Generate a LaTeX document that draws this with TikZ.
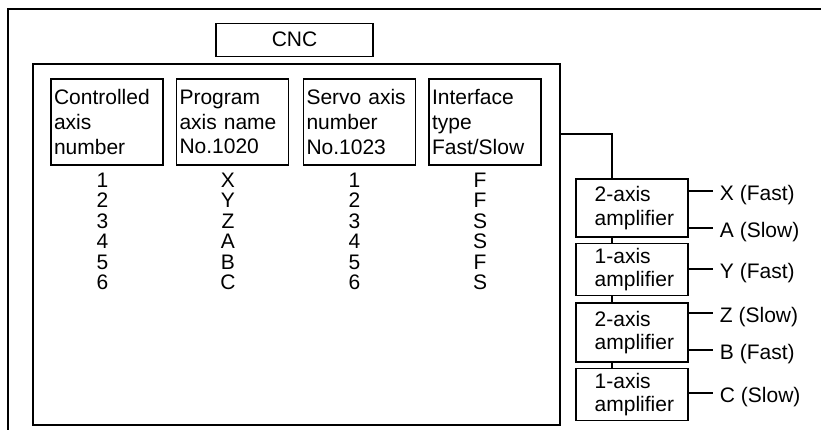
\documentclass[tikz,border=0pt]{standalone}
\usepackage{fontspec}
\setmainfont{Liberation Sans}
\usetikzlibrary{positioning}

\begin{document}
\begin{tikzpicture}[
    x=0.75pt,y=0.75pt,
    every node/.style={font=\fontsize{15.75}{18.5}\selectfont},
    frame/.style={draw,line width=1.1pt},
    hdrbox/.style={draw,line width=0.8pt,text width=79.5pt,inner xsep=2.25pt,
                   minimum width=84pt,minimum height=64.5pt,align=left},
    ampbox/.style={draw,line width=0.8pt,text width=56pt,minimum width=84pt,
                   align=left,font=\fontsize{15.75}{17.6}\selectfont},
    entry/.style={inner sep=0pt},
    outlbl/.style={anchor=west,inner xsep=5pt,inner ysep=1pt,text height=18pt,text depth=3.3pt},
    link/.style={line width=1.5pt}
]
\useasboundingbox (0,0) rectangle (821,-429);
\clip (0,0) rectangle (821,-429);

% outer frame
\draw[frame] (8,-440) |- (830,-9);

% CNC
\node[draw,line width=0.8pt,minimum width=117.75pt,minimum height=24.75pt] (cnc) at (294.5,-39.75) {CNC};
\node[frame,minimum width=395.25pt,minimum height=270.75pt] (cncbox) at (296.5,-244.5) {};

% column heads
\node[hdrbox] (hdr1) at (107,-122)   {Controlled\\axis\\number};
\node[hdrbox] (hdr2) at (232.5,-122) {Program\\axis name\\No.1020};
\node[hdrbox] (hdr3) at (359.5,-122) {Servo axis\\number\\No.1023};
\node[hdrbox] (hdr4) at (485,-122)   {Interface\\type\\Fast/Slow};

% table entries
\foreach \r/\a/\b/\c/\d in {1/1/X/1/F,2/2/Y/2/F,3/3/Z/3/S,4/4/A/4/S,5/5/B/5/F,6/6/C/6/S}{
  \node[entry] (ca\r) at (102.5,-159.5-20.5*\r) {\a};
  \node[entry] (pn\r) at (228,-159.5-20.5*\r)   {\b};
  \node[entry] (sv\r) at (354.5,-159.5-20.5*\r) {\c};
  \node[entry] (it\r) at (480,-159.5-20.5*\r)   {\d};
}

% amplifiers
\node[ampbox,minimum height=43.5pt]  (amp1) at (632,-208)   {2-axis\\amplifier};
\node[ampbox,minimum height=38.25pt] (amp2) at (632,-269.5) {1-axis\\amplifier};
\node[ampbox,minimum height=44.25pt] (amp3) at (632,-332.5) {2-axis\\amplifier};
\node[ampbox,minimum height=38.25pt] (amp4) at (632,-394.5) {1-axis\\amplifier};

% bus
\coordinate (bus) at (612,-134);
\draw[link] (cncbox.east |- bus) -- (bus) -- (bus |- amp1.north);
\foreach \a/\b in {1/2,2/3,3/4}
  \draw[link] (bus |- amp\a.south) -- (bus |- amp\b.north);

% axis outputs
\node[outlbl] (ox) at (713,-191) {X (Fast)};
\node[outlbl] (oa) at (713,-228) {A (Slow)};
\node[outlbl] (oy) at (713,-269) {Y (Fast)};
\node[outlbl] (oz) at (713,-313) {Z (Slow)};
\node[outlbl] (ob) at (713,-350) {B (Fast)};
\node[outlbl] (oc) at (713,-393) {C (Slow)};

\draw[link] (amp1.east |- ox.west) -- (ox.west);
\draw[link] (amp1.east |- oa.west) -- (oa.west);
\draw[link] (amp2.east |- oy.west) -- (oy.west);
\draw[link] (amp3.east |- oz.west) -- (oz.west);
\draw[link] (amp3.east |- ob.west) -- (ob.west);
\draw[link] (amp4.east |- oc.west) -- (oc.west);

\end{tikzpicture}
\end{document}
